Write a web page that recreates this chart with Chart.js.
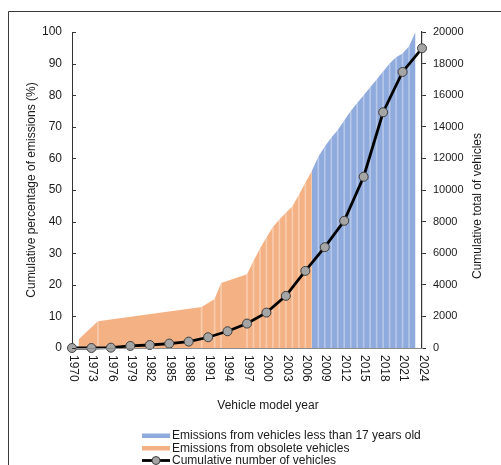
<!DOCTYPE html>
<html>
<head>
<meta charset="utf-8">
<script src="https://cdn.jsdelivr.net/npm/chart.js@4.4.1/dist/chart.umd.min.js"></script>
<style>
  html, body { margin: 0; padding: 0; background: #fff; }
  #wrap { width: 501px; height: 465px; position: relative; }
</style>
</head>
<body>
<div id="wrap"><canvas id="c" width="501" height="465"></canvas></div>
<script>
// Cumulative share of emissions (%) by vehicle model year
const obsoleteYears = [1971, 1974, 1990, 1992, 1993, 1997, 1998, 1999, 2000, 2001, 2002, 2003, 2004, 2005, 2006, 2007];
const obsoleteShare = [2.7, 8.5, 13.0, 15.5, 20.6, 23.3, 27.5, 31.5, 35.0, 38.3, 40.7, 42.8, 44.8, 48.5, 52.3, 56.0];

const recentYears = [2007, 2008, 2009, 2010, 2011, 2012, 2013, 2014, 2015, 2016, 2017, 2018, 2019, 2020, 2021, 2022, 2023];
const recentShare = [56.0, 60.5, 63.8, 66.5, 69.0, 72.0, 75.0, 77.5, 80.0, 82.5, 85.0, 87.5, 90.0, 92.0, 93.2, 95.5, 100.0];

// Cumulative number of vehicles, sampled every third model year
const markerYears = [1970, 1973, 1976, 1979, 1982, 1985, 1988, 1991, 1994, 1997, 2000, 2003, 2006, 2009, 2012, 2015, 2018, 2021, 2024];
const vehicleTotals = [0, 0, 20, 130, 190, 280, 405, 680, 1060, 1545, 2240, 3300, 4880, 6380, 8050, 10840, 14920, 17470, 18970];

const yearLabels = markerYears.map(String);

const legendLabels = [
  'Emissions from vehicles less than 17 years old',
  'Emissions from obsolete vehicles',
  'Cumulative number of vehicles'
];

const FONT = '"Liberation Sans", Arial, Helvetica, sans-serif';
const BLUE = '#8FAADC';
const ORANGE = '#F4B183';
const TEXT = '#1a1a1a';

const pts = (xs, ys) => xs.map((x, i) => ({ x, y: ys[i] }));

// thin light separators standing at every interior sample of both areas
const dividerPoints = [
  ...pts(obsoleteYears, obsoleteShare).slice(1, -1),
  ...pts(recentYears, recentShare).slice(1, -1)
];

const decor = {
  id: 'decor',
  beforeDraw(chart) {
    const ctx = chart.ctx;
    ctx.save();
    ctx.strokeStyle = '#3a3a3a';
    ctx.lineWidth = 1;
    ctx.beginPath();
    ctx.moveTo(8.5, 465);
    ctx.lineTo(8.5, 11.5);
    ctx.lineTo(501, 11.5);
    ctx.stroke();
    ctx.restore();
  },
  afterDraw(chart) {
    const { ctx, scales: { x, y } } = chart;
    ctx.save();

    // inward tick marks on the percentage axis
    ctx.strokeStyle = '#333';
    ctx.lineWidth = 1;
    y.ticks.forEach(t => {
      const py = Math.round(y.getPixelForValue(t.value)) + 0.5;
      ctx.beginPath();
      ctx.moveTo(x.left, py);
      ctx.lineTo(x.left + 4, py);
      ctx.stroke();
    });

    // vertical year labels
    ctx.fillStyle = TEXT;
    ctx.font = '12px ' + FONT;
    yearLabels.forEach((lab, i) => {
      const px = x.getPixelForValue(markerYears[i]);
      ctx.save();
      ctx.translate(px + 1, x.top + 7);
      ctx.rotate(Math.PI / 2);
      ctx.textAlign = 'left';
      ctx.textBaseline = 'middle';
      ctx.fillText(lab, 0, 0);
      ctx.restore();
    });

    // axis titles
    ctx.textAlign = 'center';
    ctx.textBaseline = 'middle';
    ctx.fillText('Vehicle model year', 268, 406);

    ctx.save();
    ctx.translate(31.5, 190);
    ctx.rotate(-Math.PI / 2);
    ctx.fillText('Cumulative percentage of emissions (%)', 0, 0);
    ctx.restore();

    ctx.save();
    ctx.translate(478, 206);
    ctx.rotate(-Math.PI / 2);
    ctx.fillText('Cumulative total of vehicles', 0, 0);
    ctx.restore();

    // legend
    const lx0 = 142, lx1 = 170, tx = 172;
    const rows = [435.5, 448, 460.5];
    ctx.textAlign = 'left';
    ctx.fillStyle = BLUE;
    ctx.fillRect(lx0, rows[0] - 2, lx1 - lx0, 4.5);
    ctx.fillStyle = ORANGE;
    ctx.fillRect(lx0, rows[1] - 2, lx1 - lx0, 4.5);
    ctx.strokeStyle = '#000';
    ctx.lineWidth = 2.8;
    ctx.beginPath();
    ctx.moveTo(lx0, rows[2]);
    ctx.lineTo(lx1, rows[2]);
    ctx.stroke();
    ctx.beginPath();
    ctx.arc((lx0 + lx1) / 2, rows[2], 4, 0, Math.PI * 2);
    ctx.fillStyle = '#A5A5A5';
    ctx.fill();
    ctx.lineWidth = 1;
    ctx.strokeStyle = '#404040';
    ctx.stroke();
    ctx.fillStyle = TEXT;
    legendLabels.forEach((t, i) => ctx.fillText(t, tx, rows[i] + 0.5));

    ctx.restore();
  }
};

new Chart(document.getElementById('c'), {
  type: 'line',
  data: {
    datasets: [
      {
        type: 'line',
        label: legendLabels[2],
        data: pts(markerYears, vehicleTotals),
        yAxisID: 'y2',
        borderColor: '#000',
        borderWidth: 2.8,
        pointRadius: 4.5,
        pointBackgroundColor: '#A5A5A5',
        pointBorderColor: '#404040',
        pointBorderWidth: 1,
        tension: 0,
        clip: false,
        order: 0
      },
      {
        type: 'bar',
        label: 'dividers',
        data: dividerPoints,
        yAxisID: 'y',
        backgroundColor: 'rgba(255,255,255,0.35)',
        borderWidth: 0,
        barThickness: 1,
        order: 1
      },
      {
        type: 'line',
        label: legendLabels[0],
        data: pts(recentYears, recentShare),
        yAxisID: 'y',
        backgroundColor: BLUE,
        borderWidth: 0,
        pointRadius: 0,
        fill: 'origin',
        tension: 0,
        order: 2
      },
      {
        type: 'line',
        label: legendLabels[1],
        data: pts(obsoleteYears, obsoleteShare),
        yAxisID: 'y',
        backgroundColor: ORANGE,
        borderWidth: 0,
        pointRadius: 0,
        fill: 'origin',
        tension: 0,
        order: 2
      }
    ]
  },
  options: {
    responsive: false,
    animation: false,
    devicePixelRatio: 1,
    layout: { padding: { top: 32, left: 0, right: 0, bottom: 0 } },
    plugins: { legend: { display: false }, tooltip: { enabled: false } },
    scales: {
      x: {
        type: 'linear',
        min: 1970,
        max: 2024,
        offset: false,
        grid: { display: false, drawTicks: false },
        ticks: { display: false },
        border: { display: true, color: '#8c8c8c', width: 1, z: 1 },
        afterFit: s => { s.height = 117; }
      },
      y: {
        position: 'left',
        min: 0,
        max: 100,
        ticks: { stepSize: 10, padding: 10, color: TEXT, font: { family: FONT, size: 12 } },
        grid: { display: false, drawTicks: false },
        border: { display: true, color: '#333', width: 1 },
        afterFit: s => { s.width = 72; }
      },
      y2: {
        position: 'right',
        min: 0,
        max: 20000,
        ticks: {
          stepSize: 2000,
          padding: 7,
          color: TEXT,
          font: { family: FONT, size: 11 },
          callback: v => String(v)
        },
        grid: { display: true, drawOnChartArea: false, drawTicks: true, tickLength: 4, color: '#333' },
        border: { display: true, color: '#333', width: 1.2 },
        afterFit: s => { s.width = 79; }
      }
    }
  },
  plugins: [decor]
});
</script>
</body>
</html>
